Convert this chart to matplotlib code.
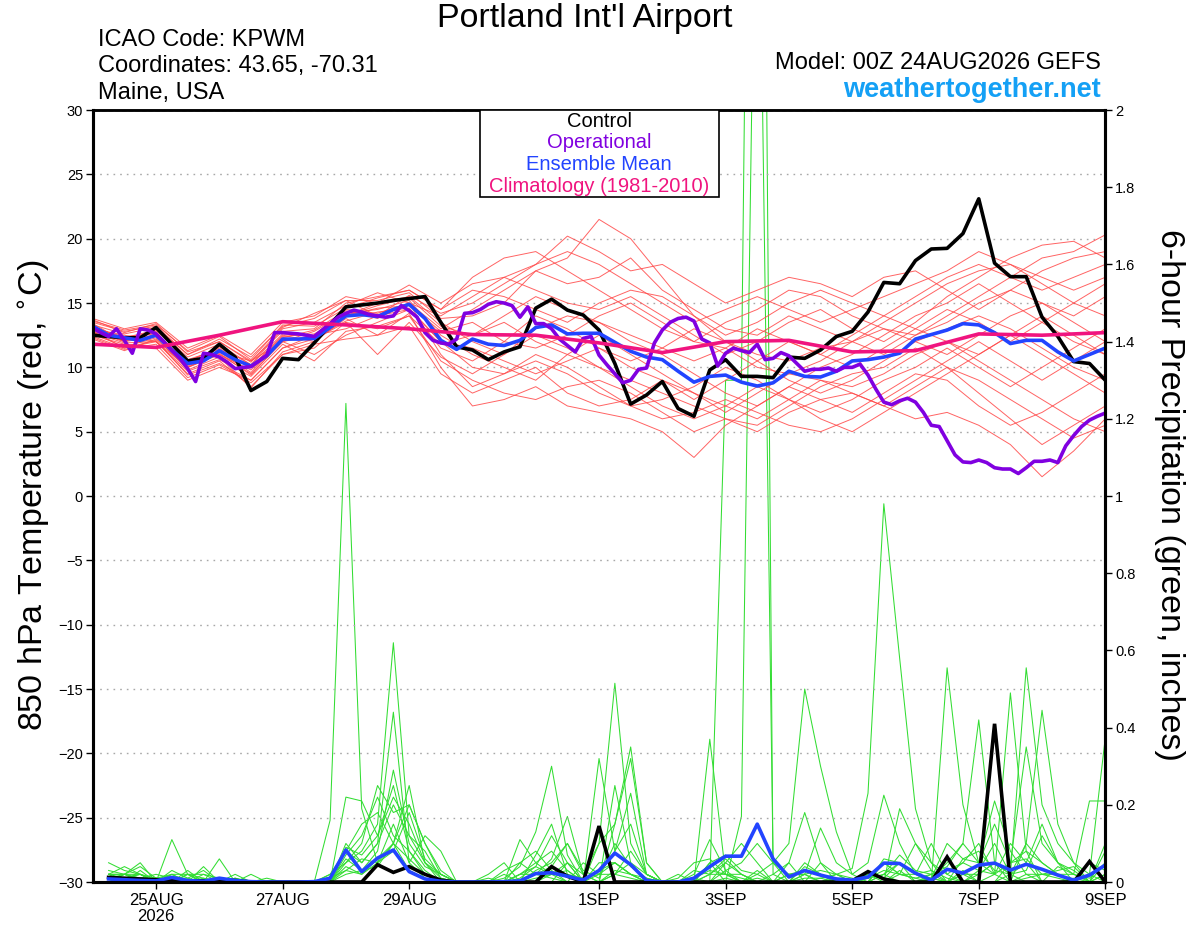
import matplotlib
matplotlib.use("Agg")
import matplotlib.pyplot as plt
from matplotlib.patches import Rectangle
from matplotlib.ticker import FuncFormatter

plt.rcParams['font.family'] = ['Liberation Sans', 'DejaVu Sans']

# ---- data (GEFS run 00Z 24AUG2026, x axis = forecast hour) ----
date_tick_hours = [24, 72, 120, 192, 240, 288, 336, 384]
date_tick_labels = ['25AUG\n2026', '27AUG', '29AUG', '1SEP', '3SEP', '5SEP', '7SEP', '9SEP']

# 850 hPa temperature, 6-hourly from 00Z
control_temp = [
    12.5, 12.4, 12.3, 12.3, 13.1, 11.8, 10.5, 10.7, 11.8, 10.8,
    8.2, 8.9, 10.7, 10.6, 11.9, 13.3, 14.7, 14.85, 15.0, 15.2,
    15.35, 15.5, 13.5, 11.6, 11.35, 10.6, 11.2, 11.6, 14.6, 15.3,
    14.45, 14.07, 12.9, 10.3, 7.15, 7.85, 8.9, 6.8, 6.2, 9.8,
    10.6, 9.3, 9.3, 9.2, 10.8, 10.7, 11.35, 12.4, 12.8, 14.3,
    16.6, 16.5, 18.3, 19.2, 19.25, 20.4, 23.1, 18.1, 17.05, 17.05,
    13.9, 12.4, 10.45, 10.3, 9.0]

mean_temp = [
    13.2, 12.5, 12.3, 12.1, 12.5, 11.35, 10.3, 10.5, 11.3, 10.6,
    10.1, 10.9, 12.2, 12.2, 12.25, 13.1, 14.0, 14.1, 13.95, 14.5,
    14.9, 13.8, 12.1, 11.4, 12.2, 11.8, 11.7, 12.1, 13.1, 13.3,
    12.6, 12.65, 12.65, 11.95, 11.25, 10.8, 10.6, 9.7, 8.85, 9.3,
    9.4, 8.85, 8.55, 8.8, 9.7, 9.3, 9.25, 9.7, 10.5, 10.6,
    10.8, 11.1, 12.2, 12.55, 12.9, 13.4, 13.3, 12.7, 11.85, 12.1,
    12.1, 11.2, 10.5, 11.0, 11.5]

# operational run, 3-hourly
oper_temp = [
    13.05, 12.7, 12.4, 13.0, 12.1, 11.1, 13.0, 12.9,
    12.6, 12.0, 11.3, 10.7, 9.9, 8.9, 11.1, 11.0,
    10.8, 10.4, 9.9, 10.0, 10.05, 10.5, 10.95, 12.7,
    12.7, 12.65, 12.6, 12.5, 12.4, 12.9, 13.4, 13.9,
    14.2, 14.45, 14.3, 14.1, 14.0, 13.9, 14.0, 14.8,
    14.4, 13.9, 12.7, 12.1, 11.9, 11.8, 12.2, 14.2,
    14.25, 14.5, 14.9, 15.1, 15.0, 14.8, 13.9, 14.7,
    13.4, 13.4, 13.0, 12.2, 11.7, 11.2, 12.25, 12.4,
    10.95, 10.2, 9.5, 8.8, 9.0, 9.85, 9.95, 11.9,
    12.9, 13.5, 13.8, 13.9, 13.6, 12.2, 11.9, 10.1,
    11.1, 11.5, 11.3, 11.15, 11.8, 10.6, 10.7, 11.15,
    10.9, 10.3, 9.7, 9.85, 9.85, 9.95, 9.7, 10.0,
    10.0, 10.25, 9.4, 8.3, 7.3, 7.1, 7.4, 7.6,
    7.3, 6.5, 5.5, 5.4, 4.3, 3.2, 2.65, 2.6,
    2.8, 2.6, 2.2, 2.1, 2.1, 1.75, 2.2, 2.7,
    2.7, 2.8, 2.6, 3.9, 4.7, 5.4, 5.9, 6.2,
    6.45]

# climatology 1981-2010, daily at 00Z
climo_temp = [11.8, 11.55, 12.5, 13.55, 13.3, 13.0, 12.55, 12.5, 11.9,
              11.15, 12.0, 12.1, 11.2, 11.3, 12.6, 12.5, 12.7]

# ensemble members, 12-hourly
member_temps = [
    [13.0, 12.0, 12.8, 10.0, 11.0, 9.5, 12.0, 12.5, 14.5, 14.2, 15.0, 13.0, 14.5, 16.0, 17.5, 18.5, 21.5,
     20.0, 17.0, 14.0, 12.0, 11.0, 10.5, 11.5, 12.0, 13.5, 15.0, 16.5, 17.5, 18.0, 16.5, 15.0, 14.0],
    [13.5, 12.8, 13.2, 11.0, 12.0, 10.5, 12.8, 13.0, 15.0, 15.5, 16.0, 14.5, 17.0, 18.5, 19.0, 17.5, 16.0,
     14.5, 13.0, 12.0, 13.5, 14.5, 16.0, 15.5, 14.0, 13.0, 12.5, 14.0, 15.5, 17.0, 18.5, 19.0, 20.3],
    [12.8, 11.5, 12.0, 9.5, 10.5, 8.5, 11.0, 11.5, 13.5, 13.0, 14.0, 10.5, 9.0, 8.0, 7.5, 8.5, 9.0,
     8.0, 6.5, 5.0, 6.0, 5.5, 7.0, 8.5, 9.5, 10.0, 11.5, 10.0, 8.0, 6.0, 4.0, 5.5, 7.0],
    [13.2, 12.2, 12.5, 10.5, 11.5, 10.0, 12.5, 12.0, 14.0, 15.0, 15.5, 13.5, 12.0, 11.0, 13.0, 14.0, 13.5,
     12.0, 11.0, 9.5, 8.0, 7.0, 8.5, 10.0, 11.0, 12.5, 14.0, 15.0, 16.5, 15.0, 13.5, 12.0, 11.0],
    [12.5, 11.8, 11.5, 9.0, 10.0, 9.0, 11.5, 12.5, 13.0, 14.0, 14.5, 12.0, 10.0, 9.5, 11.0, 10.0, 8.5,
     7.0, 7.5, 8.5, 10.0, 9.0, 7.5, 6.0, 5.0, 6.5, 8.0, 9.5, 11.0, 12.5, 11.0, 9.5, 8.0],
    [13.8, 13.0, 13.5, 11.5, 12.5, 11.0, 13.5, 14.0, 15.5, 15.0, 16.4, 15.0, 16.5, 17.0, 18.0, 20.2, 19.0,
     17.5, 18.0, 16.5, 15.0, 16.0, 17.0, 16.5, 15.5, 17.0, 17.5, 16.0, 14.5, 16.0, 17.5, 18.5, 19.0],
    [12.2, 11.3, 12.2, 10.0, 11.0, 9.8, 12.0, 11.0, 12.5, 13.5, 14.5, 11.5, 10.5, 12.0, 14.0, 13.0, 11.5,
     10.0, 9.0, 7.5, 9.0, 10.5, 12.0, 11.0, 10.0, 11.5, 13.0, 14.5, 13.5, 12.0, 13.5, 15.0, 16.5],
    [13.0, 12.5, 12.0, 10.0, 11.2, 10.5, 12.0, 12.8, 14.2, 14.5, 15.2, 12.5, 11.0, 10.0, 9.0, 11.0, 12.5,
     11.0, 9.5, 8.0, 6.5, 8.0, 9.5, 9.0, 8.5, 9.5, 11.0, 12.0, 10.5, 9.0, 7.5, 6.0, 5.0],
    [13.4, 12.0, 13.0, 10.8, 11.8, 10.2, 13.0, 13.5, 14.8, 15.8, 15.0, 14.0, 15.5, 17.0, 16.0, 15.0, 14.5,
     15.5, 14.0, 12.5, 11.0, 12.0, 13.5, 14.5, 13.0, 12.0, 13.5, 15.5, 17.0, 18.5, 19.5, 19.8, 18.5],
    [12.6, 11.6, 12.3, 9.8, 10.8, 8.4, 11.2, 12.0, 13.8, 12.5, 14.2, 10.0, 7.0, 7.5, 8.5, 7.0, 6.5,
     6.0, 5.0, 3.0, 5.5, 7.0, 8.5, 7.5, 6.5, 8.0, 9.5, 9.0, 7.0, 5.5, 6.5, 8.0, 9.5],
    [13.1, 12.3, 12.9, 10.6, 11.4, 10.0, 12.4, 12.6, 14.0, 14.6, 14.8, 12.8, 13.5, 12.0, 11.5, 12.5, 14.0,
     15.0, 13.5, 12.0, 11.5, 10.0, 9.5, 10.5, 12.0, 13.0, 12.0, 11.0, 12.5, 14.0, 15.0, 13.5, 12.0],
    [12.9, 12.1, 12.7, 10.2, 11.2, 9.6, 12.3, 12.9, 14.4, 13.8, 15.0, 11.0, 8.5, 9.5, 10.5, 9.5, 8.0,
     7.0, 6.0, 6.5, 7.5, 6.5, 5.5, 5.0, 6.0, 7.5, 9.0, 10.5, 12.0, 10.5, 9.0, 10.5, 12.0],
    [13.3, 12.6, 13.1, 11.0, 12.2, 10.8, 13.2, 13.8, 15.2, 15.2, 15.8, 13.8, 14.0, 15.0, 17.5, 16.5, 17.0,
     18.5, 16.0, 14.5, 13.0, 12.5, 14.0, 13.0, 12.0, 11.0, 12.5, 13.5, 15.0, 16.0, 15.0, 14.0, 15.5],
    [12.7, 11.9, 12.0, 9.7, 10.6, 9.3, 11.8, 10.5, 12.8, 13.2, 14.0, 11.8, 12.5, 13.5, 12.0, 11.0, 10.0,
     9.0, 8.0, 7.0, 6.0, 5.0, 6.5, 7.5, 8.0, 7.0, 6.0, 6.5, 5.5, 4.0, 1.5, 3.5, 6.0],
    [13.6, 12.9, 13.3, 11.3, 12.4, 10.6, 13.3, 13.2, 14.6, 15.4, 16.0, 14.5, 16.0, 15.5, 14.5, 13.5, 15.0,
     16.0, 15.5, 14.0, 12.5, 13.5, 15.0, 16.0, 15.0, 14.0, 15.5, 17.0, 18.0, 17.0, 16.0, 17.0, 18.0],
    [12.4, 11.5, 12.1, 9.4, 10.3, 9.0, 11.5, 12.2, 13.5, 11.0, 13.5, 10.8, 9.5, 11.0, 12.5, 11.5, 10.0,
     8.5, 7.0, 6.0, 7.0, 8.5, 7.5, 6.5, 7.5, 9.0, 10.0, 11.5, 10.0, 8.5, 10.0, 11.5, 13.0],
    [13.0, 12.4, 12.6, 10.4, 11.6, 10.2, 12.6, 12.4, 14.0, 14.8, 15.4, 13.2, 12.5, 14.0, 15.5, 14.5, 13.5,
     12.5, 11.5, 10.5, 11.5, 13.0, 12.0, 11.0, 12.5, 14.0, 13.0, 12.0, 11.0, 12.5, 14.0, 12.5, 11.0],
    [12.3, 11.4, 11.8, 9.2, 10.2, 8.8, 11.0, 11.8, 12.2, 12.5, 13.2, 9.5, 8.0, 9.0, 10.0, 8.0, 7.0,
     7.5, 9.0, 8.0, 7.0, 6.0, 7.5, 9.0, 8.0, 7.0, 8.5, 10.0, 9.0, 7.5, 6.0, 4.5, 5.5],
    [13.7, 12.7, 13.4, 11.2, 12.0, 10.4, 13.1, 14.2, 15.2, 14.0, 15.6, 14.2, 15.0, 16.5, 18.0, 19.0, 18.0,
     16.5, 15.0, 13.5, 14.5, 15.5, 14.5, 13.5, 14.5, 15.5, 16.5, 17.5, 19.0, 18.0, 17.0, 16.0, 17.0],
    [12.8, 12.0, 12.4, 10.1, 11.1, 9.4, 12.1, 12.3, 13.6, 14.3, 14.6, 12.0, 11.5, 10.5, 9.5, 10.5, 11.5,
     10.5, 11.5, 13.0, 12.0, 10.5, 9.0, 8.0, 9.0, 10.5, 12.0, 13.0, 14.0, 13.0, 11.5, 10.0, 9.0],
]

# 6-hour precipitation (inches), 6-hourly from 06Z
control_precip = [
    .012, .01, .008, .006, .004, .003, .003, .005, .004, 0, 0, 0, 0, 0, 0, 0,
    0, .045, .025, .04, .02, .005, 0, 0, 0, 0, 0, 0, .04, .015, 0, .145,
    0, 0, 0, 0, 0, 0, 0, 0, 0, 0, 0, 0, 0, 0, 0, .003,
    .027, .008, 0, 0, 0, .065, 0, 0, .41, 0, 0, 0, 0, 0, .053, 0]

mean_precip = [
    .008, .006, .004, .003, .012, .004, .002, .01, .004, .001, 0, 0, 0, .001, .01, .083,
    .027, .062, .083, .027, .008, .002, 0, 0, 0, .001, .003, .022, .024, .015, .005, .03,
    .075, .045, .004, 0, 0, .01, .04, .067, .067, .15, .06, .013, .03, .018, .008, .005,
    .013, .049, .048, .023, .005, .033, .023, .044, .049, .031, .046, .033, .018, .005, .018, .044]

member_precips = [
    [.03, .02, .04, .01, 0, .02, .01, 0, 0, 0, 0, 0, 0, 0, .16, 1.24,
     .19, .05, .1, .03, .01, 0, 0, 0, 0, 0, .02, .05, .08, .03, 0, .1,
     .515, .1, .02, 0, 0, 0, .02, .05, .02, 0, 0, 0, .05, .02, 0, 0,
     0, .05, .02, .01, 0, .555, .2, .05, .02, 0, .1, .05, .02, 0, 0, 0],
    [.02, .04, .02, 0, .03, .01, 0, 0, 0, 0, 0, 0, 0, 0, 0, .22,
     .21, .12, .25, .08, .03, 0, 0, 0, 0, 0, 0, .03, .05, .1, .02, 0,
     .15, .32, .05, 0, 0, 0, 0, 1.3, 1.3, 5.0, .02, 0, 0, 0, .01, 0,
     0, .02, .05, .02, .01, 0, 0, .03, .1, .02, 0, 0, 0, .01, 0, .05],
    [0, .01, .02, 0, 0, 0, 0, 0, 0, 0, 0, 0, 0, 0, 0, .05,
     .08, .15, .62, .12, .05, .02, 0, 0, 0, 0, 0, 0, .02, .05, 0, 0,
     .25, .05, 0, 0, 0, 0, 0, .03, .05, .1, .05, 0, 0, 0, .02, .035,
     .23, .98, .58, .19, .05, 0, 0, 0, 0, .05, .08, 0, 0, 0, 0, 0],
    [.01, .02, .02, .01, .01, 0, 0, 0, 0, 0, 0, 0, 0, 0, .01, .08,
     .05, .1, .44, .05, .01, 0, 0, 0, 0, .03, .05, .02, .01, 0, .05, .02,
     .05, .02, 0, 0, 0, 0, 0, 0, .17, 3.0, .05, .1, .5, .3, .13, .02,
     0, 0, 0, 0, .01, .05, .1, .05, .21, .08, .02, 0, 0, 0, .02, 0],
    [.02, 0, .03, 0, .02, .02, 0, 0, .01, 0, 0, 0, 0, 0, 0, .06,
     .03, .08, .29, .1, .04, .02, 0, 0, 0, .01, .04, .13, .3, .07, 0, .05,
     .05, .02, 0, 0, 0, 0, .37, .02, 0, 0, 0, 0, .02, .03, .02, 0,
     0, .05, .02, .02, .03, .01, 0, .02, .05, .02, .555, .2, .1, .05, 0, 0],
    [0, .02, 0, .01, .01, 0, .02, 0, 0, 0, 0, 0, 0, 0, .02, .05,
     .1, .25, .18, .2, .1, .03, 0, 0, 0, 0, .02, .02, .06, .17, .02, .1,
     .15, .35, .05, 0, 0, 0, .02, .02, .01, 0, 0, .02, .03, .02, 0, 0,
     .02, .01, .05, .02, .1, .02, .05, .1, .02, .49, .08, .05, .02, 0, 0, .02],
    [.01, .01, .02, 0, .11, .02, 0, 0, 0, 0, 0, 0, 0, 0, 0, .07,
     .12, .22, .12, .08, .02, 0, 0, 0, 0, 0, .11, .05, .02, 0, 0, .32,
     .08, .23, .02, 0, 0, .01, 0, .05, .1, .05, 0, 0, .02, 0, 0, 0,
     0, 0, .03, 0, .01, 0, .02, .02, .05, .02, .1, .445, .15, .05, .02, .375],
    [0, 0, .01, 0, 0, 0, 0, .06, 0, .02, 0, 0, 0, 0, 0, .1,
     .05, .1, .2, .12, .08, .01, 0, 0, 0, 0, .02, .04, .02, .02, .01, .02,
     .02, .01, 0, 0, 0, .02, .11, .03, 0, 0, .02, .05, .18, .05, 0, 0,
     0, 0, .02, .01, .02, .04, .1, .42, .05, 0, .01, .02, .02, .02, .21, .21],
    [.02, .02, .01, .02, .01, .01, .03, 0, .01, 0, 0, 0, 0, 0, .01, .03,
     .06, .05, .15, .05, .12, .08, 0, 0, 0, 0, 0, .07, .15, .02, 0, .02,
     .08, .15, .02, 0, 0, 0, .05, .07, .03, .02, 0, .02, .02, .14, .05, .02,
     .05, .225, .1, .02, 0, 0, .03, 0, .02, .05, .35, .1, .05, 0, 0, .02],
    [.05, .03, .02, 0, .02, 0, .04, 0, 0, 0, 0, 0, 0, 0, 0, .04,
     .02, .06, .1, .2, .1, .02, 0, 0, .02, .05, 0, 0, 0, .05, .02, 0,
     .03, .02, .01, 0, 0, 0, 0, .01, 0, .02, .05, .02, .02, 0, .01, 0,
     .02, 0, .19, .1, .05, .02, 0, 0, 0, .02, .05, .15, .05, .02, 0, .1],
    [.01, 0, .01, 0, .01, 0, 0, 0, .02, 0, 0, 0, 0, 0, 0, .02,
     .03, .04, .1, .25, .05, 0, 0, 0, 0, 0, 0, .01, .02, .03, 0, 0,
     .02, .05, .02, 0, .01, .05, .06, .02, .02, 0, 0, 0, 0, .01, 0, 0,
     .01, .03, .02, .1, .03, 0, .02, 0, 0, 0, .02, .02, .03, .04, 0, 0],
    [.02, .02, .05, 0, 0, .02, .02, .01, 0, 0, 0, 0, 0, 0, 0, .09,
     .07, .12, .22, .15, .05, .01, 0, 0, .01, 0, .05, .08, .03, 0, 0, .03,
     .05, .02, 0, 0, .02, 0, .05, 0, 0, .01, 0, .05, 0, .05, .02, .01,
     0, .02, 0, 0, .01, .1, .06, .05, .15, .05, .06, .02, .01, 0, .05, .03],
    [.02, .01, 0, .01, 0, .03, 0, 0, 0, 0, .01, 0, 0, 0, .02, .08,
     .15, .18, .1, .06, .02, 0, 0, 0, 0, .02, 0, .02, .04, .1, .03, .01,
     .1, .04, .01, 0, 0, .03, .02, .06, .02, 0, 0, 0, .01, .01, .02, 0,
     0, .06, .05, 0, .02, .03, .05, .03, .02, .1, .05, 0, .04, .02, .01, .05],
    [0, .02, .01, .01, .02, 0, .01, 0, 0, 0, 0, 0, 0, 0, 0, .03,
     .02, .05, .08, .18, .06, .02, 0, 0, 0, 0, .01, .04, .12, .05, 0, 0,
     .02, .08, .02, 0, 0, .01, .03, .02, 0, .03, 0, 0, .04, .02, 0, 0,
     .01, .02, .07, .03, .02, 0, .06, .08, .03, .02, .03, .12, .05, .03, 0, .08],
]

# ---- figure ----
fig = plt.figure(figsize=(12, 9.27), dpi=100)
ax = fig.add_axes([0.0773, 0.0485, 0.8438, 0.8328])
ax2 = ax.twinx()
ax.set_zorder(ax2.get_zorder() + 1)
ax.patch.set_visible(False)

# precipitation (right axis)
for p in member_precips:
    ax2.plot([6 * (k + 1) for k in range(len(p))], p, color='#33dd33', lw=0.75)
ax2.plot([6 * (k + 1) for k in range(len(control_precip))], control_precip,
         color='black', lw=2.6, solid_joinstyle='miter')
ax2.plot([6 * (k + 1) for k in range(len(mean_precip))], mean_precip,
         color='#2244ff', lw=2.6)

# temperature (left axis)
for m in member_temps:
    ax.plot([12 * k for k in range(len(m))], m, color='#ff4848', lw=0.7, alpha=0.85)
ax.plot([6 * k for k in range(len(control_temp))], control_temp, color='black', lw=2.6)
ax.plot([6 * k for k in range(len(mean_temp))], mean_temp, color='#2244ff', lw=2.6)
ax.plot([3 * k for k in range(len(oper_temp))], oper_temp, color='#8000e0', lw=2.6)
ax.plot([24 * k for k in range(len(climo_temp))], climo_temp, color='#f0147f', lw=2.6)

ax.set_xlim(0, 384)
ax.set_ylim(-30, 30)
ax2.set_ylim(0, 2)

ax.set_yticks(range(-30, 31, 5))
ax.yaxis.grid(True, color='#a8a8a8', lw=1.0, linestyle=(0, (1.2, 3.6)))
ax.set_xticks(date_tick_hours)
ax.set_xticklabels(date_tick_labels, fontsize=12, linespacing=1.1)
ax2.set_yticks([0.2 * k for k in range(11)])
ax2.yaxis.set_major_formatter(FuncFormatter(lambda v, _: '%g' % round(v, 1)))

ax.tick_params(axis='y', labelsize=10.5, length=5, width=1, direction='out', pad=2)
ax.tick_params(axis='x', length=5, width=1, direction='out', pad=3)
ax2.tick_params(axis='y', labelsize=10.5, length=5, width=1, direction='out', pad=2)

for a in (ax, ax2):
    for side in ('left', 'right', 'bottom'):
        a.spines[side].set_linewidth(2.2)
    a.spines['top'].set_linewidth(1.8)

# legend box
ax.add_patch(Rectangle((0.3825, 0.8873), 0.236, 0.1127, transform=ax.transAxes,
                       facecolor='white', edgecolor='black', lw=1.2, zorder=10))
legend_items = [('Control', 'black'), ('Operational', '#8000e0'),
                ('Ensemble Mean', '#2244ff'), ('Climatology (1981-2010)', '#f0147f')]
for k, (txt, col) in enumerate(legend_items):
    ax.text(0.5, 0.9857 - k * 0.0282, txt, color=col, fontsize=14.5, ha='center',
            va='center', transform=ax.transAxes, zorder=11)

# header text
fig.text(0.4875, 0.980, "Portland Int'l Airport", fontsize=24.5, ha='center', va='center')
fig.text(0.0817, 0.957, 'ICAO Code: KPWM', fontsize=17, va='center')
fig.text(0.0817, 0.929, 'Coordinates: 43.65, -70.31', fontsize=17, va='center')
fig.text(0.0817, 0.900, 'Maine, USA', fontsize=17, va='center')
fig.text(0.9175, 0.932, 'Model: 00Z 24AUG2026 GEFS', fontsize=17, ha='right', va='center')
fig.text(0.9175, 0.903, 'weathertogether.net', fontsize=19.5, ha='right', va='center',
         color='#14a0f5', fontweight='bold')

# axis titles
fig.text(0.029, 0.466, '850 hPa Temperature (red, $^{\\circ}$C)', fontsize=24.5,
         rotation=90, ha='center', va='center')
fig.text(0.975, 0.466, '6-hour Precipitation (green, inches)', fontsize=24.5,
         rotation=270, ha='center', va='center')

fig.savefig('out.png', dpi=100)
